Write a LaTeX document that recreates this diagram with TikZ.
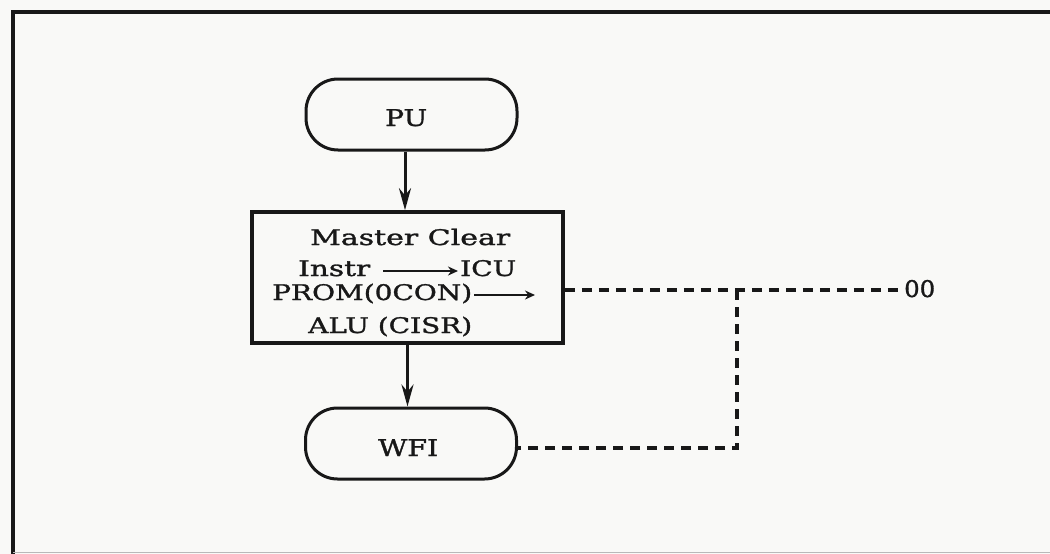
\documentclass[tikz,border=0pt]{standalone}
\usepackage{graphicx}
\usepackage{fontspec}
\setmainfont{DejaVu Serif}[FakeBold=1.2]
\usetikzlibrary{arrows.meta,calc}
\definecolor{ink}{RGB}{24,24,24}
\definecolor{paper}{RGB}{249,249,247}
\newcommand{\fitw}[2]{\resizebox{#1}{\height}{#2}}
\tikzset{
  txt/.style={inner sep=0pt, anchor=base west, font=\fontsize{21.5}{26}\selectfont, text=ink},
  bigtxt/.style={txt, font=\fontsize{23}{28}\selectfont},
  stadium/.style={draw=ink, line width=3pt, rounded corners=32pt, minimum width=211pt, minimum height=71pt, inner sep=0pt},
  flowbox/.style={draw=ink, line width=3.6pt, minimum width=311pt, minimum height=131pt, inner sep=0pt},
  flow/.style={draw=ink, line width=3pt, -{Stealth[length=22pt,width=12pt]}},
  inarrow/.style={draw=ink, line width=2.2pt, -{Stealth[length=10pt,width=9pt]}},
  link/.style={draw=ink, line width=3.2pt, dash pattern=on 10pt off 7pt},
}
\begin{document}
\begin{tikzpicture}[x=1pt,y=-1pt]
  \fill[paper] (0,0) rectangle (1050,554);
  \useasboundingbox (0,0) rectangle (1050,554);
  % frame
  \draw[ink, line width=3.6pt] (1050,12) -- (13,12) -- (13,554);
  \draw[gray!55, line width=1.2pt] (13,552.5) -- (1050,552.5);

  % shapes
  \node[stadium] (pu) at (411.5,114.5) {};
  \node[flowbox] (box) at (407.5,277.5) {};
  \node[stadium] (wfi) at (411,443.5) {};

  % labels
  \node[bigtxt] (pulabel) at (385,126) {\fitw{42pt}{PU}};
  \node[bigtxt] (wfilabel) at (378,456) {\fitw{60pt}{WFI}};
  \node[txt] (master) at (310,245) {\fitw{200pt}{Master Clear}};
  \node[txt] (instr) at (298,276) {\fitw{72pt}{Instr}};
  \node[txt] (icu) at (460,276) {\fitw{56pt}{ICU}};
  \node[txt] (prom) at (272,300) {\fitw{200pt}{PROM(0CON)}};
  \node[txt] (alu) at (308,333) {\fitw{164pt}{ALU (CISR)}};
  \node[bigtxt] (oo) at (904,297) {\fitw{31pt}{00}};

  % inline arrows
  \coordinate (promtip) at (535,295);
  \draw[inarrow] ($(instr.base east)+(13,-5)$) -- ($(icu.base west)+(-2,-5)$);
  \draw[inarrow] ($(prom.base east)+(2,-5)$) -- (promtip);

  % flow arrows
  \draw[flow] ([xshift=-6.5pt]pu.south) -- ([xshift=-6.5pt]pu.south |- box.north);
  \draw[flow] (box.south) -- (wfi.north -| box.south);

  % dashed connections
  \coordinate (j) at (737,290);
  \coordinate (k) at (737,448);
  \draw[link] (box.east |- j) -- ($(j -| oo.west)+(-5,0)$);
  \draw[link] (j) -- (k) -- (k -| wfi.east);
\end{tikzpicture}
\end{document}
